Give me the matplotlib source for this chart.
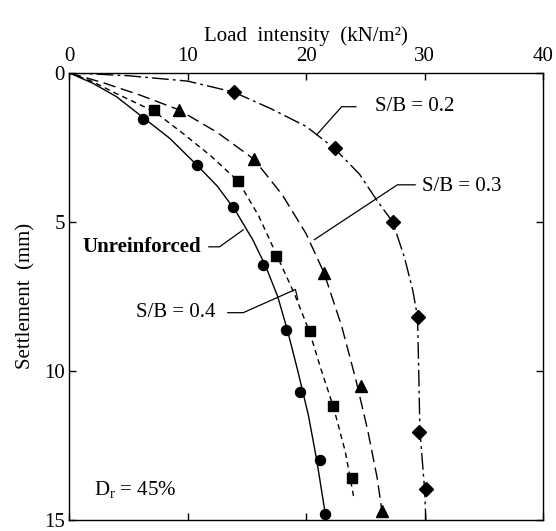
import matplotlib
matplotlib.use('Agg')
import matplotlib.pyplot as plt

plt.rcParams['font.family'] = ['Liberation Serif', 'DejaVu Serif']
plt.rcParams['mathtext.fontset'] = 'custom'
plt.rcParams['mathtext.rm'] = 'Liberation Serif'

# measured points (load kN/m2, settlement mm)
unre_x = [6.25, 10.8, 13.8, 16.4, 18.3, 19.5, 21.2, 21.6]
unre_y = [1.55, 3.09, 4.52, 6.44, 8.63, 10.7, 12.98, 14.8]
sb04_x = [7.2, 14.25, 17.5, 20.3, 22.3, 23.9]
sb04_y = [1.26, 3.63, 6.16, 8.65, 11.18, 13.6]
sb03_x = [9.25, 15.6, 21.5, 24.6, 26.4]
sb03_y = [1.24, 2.88, 6.73, 10.5, 14.7]
sb02_x = [13.9, 22.4, 27.3, 29.4, 29.5, 30.1]
sb02_y = [0.65, 2.54, 5.0, 8.18, 12.04, 13.96]

# fitted curves
unre_cx = [0, 2, 4, 6.25, 8.5, 10.8, 12.5, 14.0, 15.5, 16.6, 17.6, 18.4, 19.3, 20.2, 20.9, 21.5, 21.7]
unre_cy = [0, 0.35, 0.8, 1.5, 2.2, 3.1, 3.8, 4.6, 5.6, 6.5, 7.5, 8.6, 10.0, 11.5, 13.0, 14.5, 15.0]
sb04_cx = [0, 2, 4, 7.2, 9.5, 12.0, 14.3, 16.0, 17.5, 19.0, 20.3, 21.3, 22.3, 23.3, 24.0]
sb04_cy = [0, 0.3, 0.7, 1.3, 2.0, 2.8, 3.65, 4.8, 6.1, 7.4, 8.7, 10.0, 11.2, 12.7, 14.2]
sb03_cx = [0, 3, 6, 9.25, 12.5, 15.6, 18.0, 20.0, 21.5, 23.0, 24.2, 25.2, 26.0, 26.5]
sb03_cy = [0, 0.35, 0.75, 1.24, 2.0, 2.9, 4.1, 5.4, 6.7, 8.5, 10.3, 12.0, 13.6, 15.0]
sb02_cx = [0, 5, 10, 13.9, 17, 20, 22.4, 24.5, 26, 27.3, 28.3, 29.0, 29.4, 29.5, 29.6, 30.0, 30.1]
sb02_cy = [0, 0.1, 0.28, 0.65, 1.2, 1.8, 2.54, 3.4, 4.3, 5.0, 6.2, 7.3, 8.2, 10.0, 12.0, 14.0, 15.0]

fig = plt.figure(figsize=(5.56, 5.31), dpi=100)
ax = fig.add_axes([0.124, 0.021, 0.853, 0.842])

lw = 1.0
ax.plot(unre_cx, unre_cy, color='black', lw=lw, ls='-')
ax.plot(sb04_cx, sb04_cy, color='black', lw=lw, ls=(0, (4, 3)))
ax.plot(sb03_cx, sb03_cy, color='black', lw=lw, ls=(0, (9, 4)))
ax.plot(sb02_cx, sb02_cy, color='black', lw=lw, ls=(0, (12, 3, 2, 3)))

ax.plot(unre_x, unre_y, 'o', color='black', ms=7.2)
ax.plot(sb04_x, sb04_y, 's', color='black', ms=6.5)
ax.plot(sb03_x, sb03_y, '^', color='black', ms=8)
ax.plot(sb02_x, sb02_y, 'D', color='black', ms=6.8)

ax.set_xlim(0, 40)
ax.set_ylim(15, 0)
ax.xaxis.tick_top()
ax.xaxis.set_label_position('top')
ax.set_xticks([0, 10, 20, 30, 40])
ax.set_yticks([0, 5, 10, 15])
ax.tick_params(direction='in', length=5, width=1, labelsize=15, top=True, bottom=True,
               left=True, right=True)
ax.tick_params(axis='x', pad=5)
ax.tick_params(axis='y', pad=3)
for s in ax.spines.values():
    s.set_linewidth(1.0)

ax.set_xlabel('Load  intensity  (kN/m²)', fontsize=15, labelpad=4)
ax.set_ylabel('Settlement  (mm)', fontsize=15, labelpad=6)

fs = 15
# labels with leaders
ax.text(25.8, 1.14, 'S/B = 0.2', fontsize=fs, va='center', ha='left')
ax.plot([24.2, 23.0, 20.9], [1.14, 1.14, 2.08], color='black', lw=0.9)
ax.text(29.8, 3.8, 'S/B = 0.3', fontsize=fs, va='center', ha='left')
ax.plot([29.2, 27.7, 20.7], [3.76, 3.76, 5.6], color='black', lw=0.9)
ax.text(12.4, 8.05, 'S/B = 0.4', fontsize=fs, va='center', ha='right')
ax.plot([13.4, 14.7, 19.1, 19.3], [8.05, 8.05, 7.27, 7.6], color='black', lw=0.9)
ax.text(11.1, 5.84, 'Unreinforced', fontsize=fs, va='center', ha='right', fontweight='bold')
ax.plot([11.8, 12.7, 14.7], [5.84, 5.84, 5.27], color='black', lw=0.9)
ax.text(2.1, 14.0, r'D$_\mathrm{r}$ = 45%', fontsize=fs, va='center', ha='left')

fig.savefig('out.png', dpi=100)
